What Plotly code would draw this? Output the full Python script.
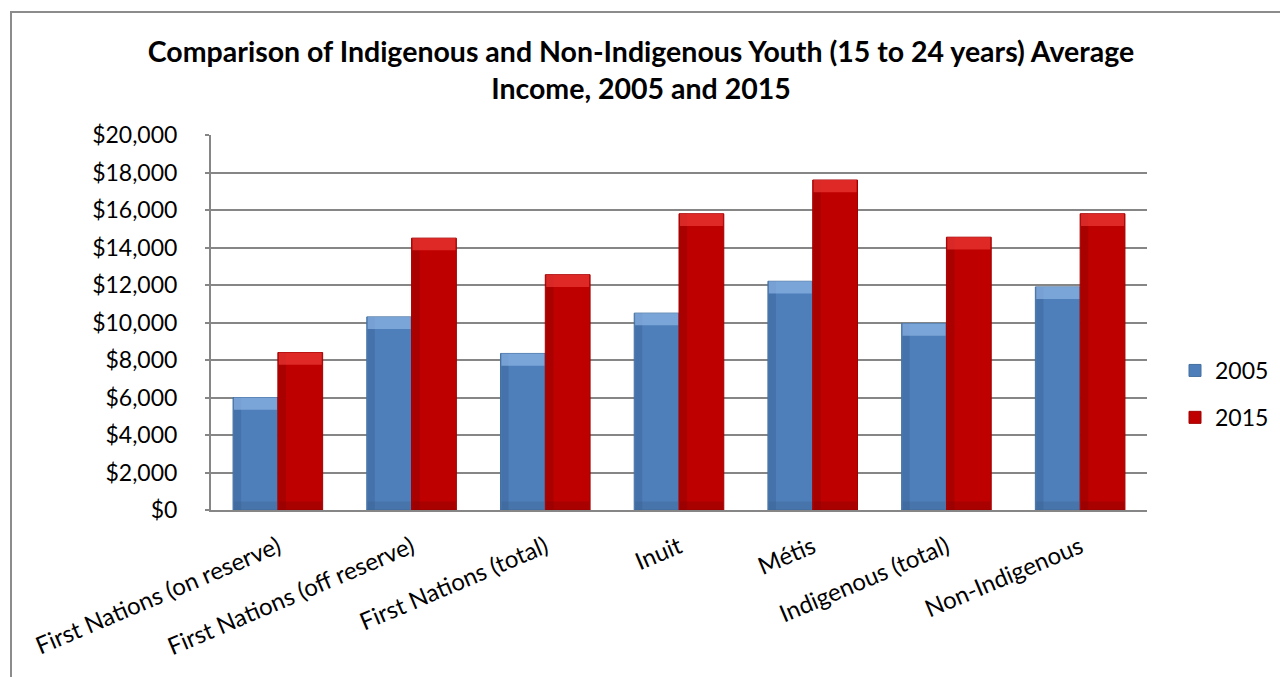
import plotly.graph_objects as go

categories = ["First Nations (on reserve)", "First Nations (off reserve)", "First Nations (total)",
              "Inuit", "Métis", "Indigenous (total)", "Non-Indigenous"]
income_2005 = [6000, 10300, 8350, 10500, 12200, 9950, 11900]
income_2015 = [8400, 14500, 12550, 15800, 17600, 14550, 15800]
y_ticks = [0, 2000, 4000, 6000, 8000, 10000, 12000, 14000, 16000, 18000, 20000]
y_tick_labels = ["$0", "$2,000", "$4,000", "$6,000", "$8,000", "$10,000", "$12,000",
                 "$14,000", "$16,000", "$18,000", "$20,000"]

W, H = 1280, 677
L, R, T, B = 211, 133, 135, 167
FONT = "Lato"
GRID = "#868686"

# style constants for the bevel look (in axis units / category fractions)
CAP = 650
BASE_CAP = 450
BAR_W = 0.335
SIDE = 0.16

blue, blue_cap, blue_base, blue_side = "#4F7FBA", "#8DB5E6", "#3B6393", "#3A6496"
red, red_cap, red_base, red_side = "#BE0000", "#EC3A38", "#8A0000", "#900000"

fig = go.Figure()
fig.add_trace(go.Bar(name="2005", x=categories, y=income_2005, width=BAR_W, offset=-BAR_W,
                     marker=dict(color=blue, line=dict(color="#44709F", width=1)),
                     legendgroup="a"))
fig.add_trace(go.Bar(name="2015", x=categories, y=income_2015, width=BAR_W, offset=0,
                     marker=dict(color=red, line=dict(color="#A00000", width=1)),
                     legendgroup="b"))
# bevel: darker left edge, highlight on top, shading at the bottom
for vals, off, cap_c, base_c, side_c in [(income_2005, -BAR_W, blue_cap, blue_base, blue_side),
                                         (income_2015, 0, red_cap, red_base, red_side)]:
    fig.add_trace(go.Bar(x=categories, y=vals,
                         width=BAR_W * SIDE, offset=off + BAR_W * 0.02,
                         marker=dict(color=side_c, opacity=0.45, line=dict(width=0)),
                         showlegend=False, hoverinfo="skip"))
    fig.add_trace(go.Bar(x=categories, y=[CAP] * len(vals), base=[v - CAP for v in vals],
                         width=BAR_W * 0.96, offset=off + BAR_W * 0.02,
                         marker=dict(color=cap_c, opacity=0.7, line=dict(width=0)),
                         showlegend=False, hoverinfo="skip"))
    fig.add_trace(go.Bar(x=categories, y=[BASE_CAP] * len(vals), base=[0] * len(vals),
                         width=BAR_W * 0.96, offset=off + BAR_W * 0.02,
                         marker=dict(color=base_c, opacity=0.4, line=dict(width=0)),
                         showlegend=False, hoverinfo="skip"))

pw = W - L - R
ph = H - T - B
def px_x(x):
    return (x - L) / pw
def px_y(y):
    return (H - B - y) / ph

fig.update_layout(
    width=W, height=H,
    margin=dict(l=L, r=R, t=T, b=B, autoexpand=False),
    paper_bgcolor="white", plot_bgcolor="white",
    barmode="overlay",
    font=dict(family=FONT, size=23, color="black"),
    title=dict(text="<b>Comparison of Indigenous and Non-Indigenous Youth (15 to 24 years) Average<br>Income, 2005 and 2015</b>",
               x=641 / W, xanchor="center", y=1 - 62 / H, yanchor="middle",
               font=dict(family=FONT, size=28.5, color="black")),
    legend=dict(x=px_x(1175), y=px_y(394), xanchor="left", yanchor="middle",
                font=dict(family=FONT, size=23), traceorder="grouped", tracegroupgap=14,
                bgcolor="rgba(0,0,0,0)", itemwidth=30),
    xaxis=dict(tickangle=-23, showline=True, linecolor=GRID, linewidth=2,
               ticks="", ticklabelstandoff=12, tickfont=dict(family=FONT, size=24)),
    yaxis=dict(range=[0, 20000], tickvals=y_ticks, ticktext=y_tick_labels,
               showgrid=True, gridcolor=GRID, gridwidth=2,
               showline=True, linecolor=GRID, linewidth=2,
               ticks="outside", ticklen=4, tickcolor=GRID, tickwidth=2,
               ticklabelstandoff=23,
               tickfont=dict(family=FONT, size=23), zeroline=False),
    shapes=[dict(type="rect", xref="paper", yref="paper",
                 x0=px_x(11), x1=px_x(1300), y0=px_y(700), y1=px_y(12),
                 line=dict(color="#8C8C8C", width=2), layer="below")],
)

fig.write_html("out.html", config={"displayModeBar": False},
               post_script="document.body.style.margin='0';document.body.style.overflow='hidden';")
